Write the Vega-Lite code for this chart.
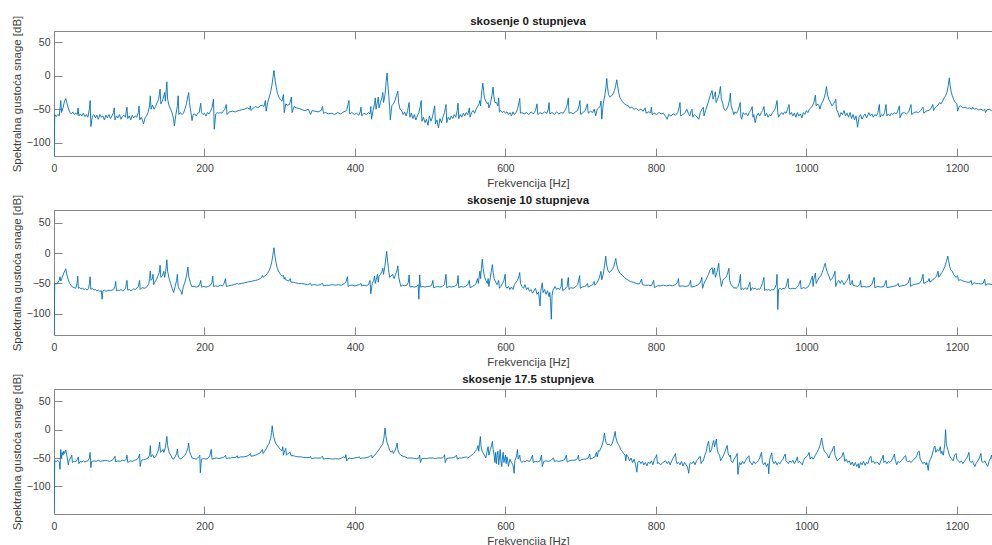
{
"$schema": "https://vega.github.io/schema/vega-lite/v6.json",
"background": "white",
"padding": {"left": 10, "top": 14, "right": 0, "bottom": 0},
"bounds": "flush",
"spacing": 54,
"config": {
  "font": "Liberation Sans",
  "view": {"stroke": "#868686", "strokeWidth": 1},
  "axis": {"labelFont": "Liberation Sans", "labelFontSize": 10.5, "labelColor": "#404040", "titleFont": "Liberation Sans", "titleFontSize": 11.5, "titleFontWeight": "normal", "titleColor": "#404040", "domain": false, "grid": false, "tickColor": "#868686", "tickSize": -8, "labelFlush": false, "format": "d"},
  "axisX": {"labelPadding": 15, "titlePadding": 4},
  "axisY": {"labelPadding": 12, "titlePadding": 4},
  "title": {"font": "Liberation Sans", "fontSize": 11.5, "fontWeight": "bold", "color": "#1a1a1a", "offset": -12.5}
},
"datasets": {
"a": [
{"f":0,"v":-120},{"f":1,"v":-58},{"f":3,"v":-61},{"f":5,"v":-58},{"f":7,"v":-60},{"f":9,"v":-37},{"f":10,"v":-55},{"f":12,"v":-48},{"f":14,"v":-38},{"f":15.6,"v":-34},{"f":17,"v":-40},{"f":19,"v":-48},{"f":21,"v":-55},{"f":23,"v":-57},{"f":25,"v":-54},{"f":27,"v":-58},{"f":29,"v":-56},{"f":31,"v":-58},{"f":32,"v":-48},{"f":33,"v":-60},{"f":35,"v":-57},{"f":37,"v":-60},{"f":39,"v":-56},{"f":41,"v":-61},{"f":43,"v":-58},{"f":45,"v":-62},{"f":47,"v":-50},{"f":48,"v":-37},{"f":49,"v":-76},{"f":51,"v":-60},{"f":53,"v":-58},{"f":55,"v":-63},{"f":57,"v":-59},{"f":59,"v":-65},{"f":61,"v":-58},{"f":63,"v":-62},{"f":65,"v":-60},{"f":67,"v":-66},{"f":69,"v":-59},{"f":71,"v":-63},{"f":73,"v":-58},{"f":75,"v":-64},{"f":77,"v":-60},{"f":79,"v":-55},{"f":80,"v":-48},{"f":81,"v":-66},{"f":83,"v":-60},{"f":85,"v":-63},{"f":87,"v":-58},{"f":89,"v":-65},{"f":91,"v":-61},{"f":93,"v":-59},{"f":95,"v":-62},{"f":96,"v":-53},{"f":97,"v":-47},{"f":98,"v":-64},{"f":100,"v":-60},{"f":102,"v":-66},{"f":104,"v":-59},{"f":106,"v":-63},{"f":108,"v":-60},{"f":110,"v":-62},{"f":112,"v":-55},{"f":113,"v":-45},{"f":114,"v":-66},{"f":116,"v":-62},{"f":118,"v":-68},{"f":119,"v":-72},{"f":121,"v":-63},{"f":123,"v":-60},{"f":125,"v":-55},{"f":127,"v":-45},{"f":128,"v":-30},{"f":129,"v":-50},{"f":131,"v":-44},{"f":133,"v":-50},{"f":135,"v":-46},{"f":137,"v":-40},{"f":139,"v":-36},{"f":141,"v":-20},{"f":142,"v":-42},{"f":144,"v":-38},{"f":146,"v":-30},{"f":147,"v":-25},{"f":148,"v":-38},{"f":150,"v":-9},{"f":151,"v":-35},{"f":153,"v":-45},{"f":155,"v":-50},{"f":157,"v":-56},{"f":159,"v":-65},{"f":160,"v":-75},{"f":162,"v":-58},{"f":164,"v":-45},{"f":165,"v":-30},{"f":166,"v":-58},{"f":168,"v":-55},{"f":170,"v":-58},{"f":172,"v":-56},{"f":174,"v":-50},{"f":176,"v":-42},{"f":178,"v":-30},{"f":179,"v":-25},{"f":180,"v":-40},{"f":182,"v":-55},{"f":183.5,"v":-67},{"f":185,"v":-58},{"f":187,"v":-57},{"f":189,"v":-60},{"f":191,"v":-56},{"f":193,"v":-55},{"f":195,"v":-41},{"f":196,"v":-55},{"f":198,"v":-58},{"f":200,"v":-56},{"f":202,"v":-60},{"f":204,"v":-55},{"f":206,"v":-57},{"f":208,"v":-53},{"f":210,"v":-48},{"f":212,"v":-35},{"f":213,"v":-80},{"f":215,"v":-57},{"f":217,"v":-55},{"f":219,"v":-56},{"f":221,"v":-55},{"f":223,"v":-56},{"f":225,"v":-53},{"f":227,"v":-50},{"f":229,"v":-43},{"f":230,"v":-58},{"f":233,"v":-54},{"f":237,"v":-53},{"f":241,"v":-54},{"f":245,"v":-52},{"f":249,"v":-51},{"f":253,"v":-50},{"f":257,"v":-48},{"f":260,"v":-50},{"f":261,"v":-45},{"f":262,"v":-52},{"f":265,"v":-48},{"f":268,"v":-46},{"f":271,"v":-48},{"f":274,"v":-45},{"f":277,"v":-44},{"f":279,"v":-46},{"f":281,"v":-37},{"f":282,"v":-53},{"f":284,"v":-40},{"f":286,"v":-32},{"f":288,"v":-24},{"f":289.5,"v":-15},{"f":290.8,"v":-5},{"f":291.8,"v":4},{"f":292.4,"v":8},{"f":293,"v":3},{"f":294,"v":-8},{"f":295.5,"v":-18},{"f":297,"v":-26},{"f":299,"v":-32},{"f":301,"v":-36},{"f":303,"v":-38},{"f":305,"v":-28},{"f":306,"v":-55},{"f":308,"v":-42},{"f":310,"v":-44},{"f":313,"v":-43},{"f":315.5,"v":-32},{"f":316.5,"v":-55},{"f":319,"v":-46},{"f":322,"v":-48},{"f":326,"v":-49},{"f":330,"v":-51},{"f":334,"v":-52},{"f":338,"v":-50},{"f":341,"v":-58},{"f":343,"v":-52},{"f":347,"v":-53},{"f":351,"v":-54},{"f":355,"v":-52},{"f":357,"v":-46},{"f":358,"v":-56},{"f":361,"v":-55},{"f":365,"v":-57},{"f":369,"v":-56},{"f":373,"v":-58},{"f":377,"v":-55},{"f":381,"v":-57},{"f":385,"v":-54},{"f":389,"v":-52},{"f":392,"v":-37},{"f":393,"v":-57},{"f":396,"v":-55},{"f":399,"v":-58},{"f":402,"v":-56},{"f":405,"v":-59},{"f":407,"v":-54},{"f":408,"v":-47},{"f":409,"v":-60},{"f":412,"v":-56},{"f":415,"v":-58},{"f":418,"v":-55},{"f":420,"v":-57},{"f":421,"v":-46},{"f":422,"v":-65},{"f":424,"v":-52},{"f":426,"v":-42},{"f":427,"v":-33},{"f":428,"v":-50},{"f":430,"v":-38},{"f":431,"v":-32},{"f":432,"v":-48},{"f":434,"v":-40},{"f":436,"v":-32},{"f":437,"v":-25},{"f":438,"v":-40},{"f":440,"v":-28},{"f":441.5,"v":-8},{"f":442.7,"v":4},{"f":443.5,"v":-10},{"f":445,"v":-30},{"f":446,"v":-45},{"f":447,"v":-66},{"f":449,"v":-45},{"f":451,"v":-42},{"f":453,"v":-38},{"f":455,"v":-30},{"f":457,"v":-23},{"f":458,"v":-40},{"f":460,"v":-50},{"f":462,"v":-52},{"f":464,"v":-58},{"f":466,"v":-54},{"f":468,"v":-60},{"f":470,"v":-52},{"f":472,"v":-40},{"f":473,"v":-62},{"f":475,"v":-56},{"f":477,"v":-64},{"f":479,"v":-58},{"f":481,"v":-66},{"f":483,"v":-60},{"f":485,"v":-55},{"f":487,"v":-45},{"f":488,"v":-37},{"f":489,"v":-68},{"f":491,"v":-62},{"f":493,"v":-70},{"f":495,"v":-65},{"f":497,"v":-74},{"f":499,"v":-60},{"f":501,"v":-68},{"f":503,"v":-62},{"f":505,"v":-50},{"f":506,"v":-45},{"f":507,"v":-72},{"f":509,"v":-66},{"f":511,"v":-78},{"f":513,"v":-64},{"f":515,"v":-70},{"f":517,"v":-62},{"f":519,"v":-55},{"f":521,"v":-43},{"f":522,"v":-70},{"f":524,"v":-62},{"f":526,"v":-66},{"f":528,"v":-60},{"f":530,"v":-64},{"f":532,"v":-58},{"f":534,"v":-62},{"f":536,"v":-52},{"f":537,"v":-41},{"f":538,"v":-64},{"f":540,"v":-58},{"f":542,"v":-62},{"f":544,"v":-56},{"f":546,"v":-60},{"f":548,"v":-55},{"f":550,"v":-58},{"f":552,"v":-48},{"f":553,"v":-62},{"f":555,"v":-55},{"f":557,"v":-52},{"f":559,"v":-56},{"f":561,"v":-50},{"f":563,"v":-46},{"f":565,"v":-42},{"f":566,"v":-37},{"f":567,"v":-45},{"f":568,"v":-30},{"f":569,"v":-20},{"f":570,"v":-11},{"f":571,"v":-22},{"f":572,"v":-33},{"f":574,"v":-38},{"f":576,"v":-42},{"f":577,"v":-40},{"f":578,"v":-48},{"f":580,"v":-42},{"f":582,"v":-30},{"f":583.6,"v":-17},{"f":584.5,"v":-30},{"f":586,"v":-40},{"f":588,"v":-40},{"f":590,"v":-45},{"f":591,"v":-33},{"f":592,"v":-54},{"f":594,"v":-52},{"f":596,"v":-55},{"f":598,"v":-53},{"f":600,"v":-56},{"f":602,"v":-54},{"f":604,"v":-58},{"f":606,"v":-55},{"f":608,"v":-60},{"f":610,"v":-54},{"f":612,"v":-58},{"f":614,"v":-55},{"f":616,"v":-50},{"f":618,"v":-40},{"f":619,"v":-34},{"f":620,"v":-56},{"f":622,"v":-55},{"f":625,"v":-57},{"f":628,"v":-55},{"f":631,"v":-58},{"f":634,"v":-54},{"f":637,"v":-57},{"f":640,"v":-52},{"f":642,"v":-42},{"f":643,"v":-58},{"f":646,"v":-55},{"f":649,"v":-57},{"f":652,"v":-54},{"f":655,"v":-56},{"f":657,"v":-50},{"f":658,"v":-40},{"f":659,"v":-57},{"f":662,"v":-55},{"f":665,"v":-58},{"f":668,"v":-54},{"f":671,"v":-57},{"f":674,"v":-55},{"f":677,"v":-56},{"f":680,"v":-50},{"f":682,"v":-44},{"f":683.6,"v":-33},{"f":684.5,"v":-56},{"f":687,"v":-55},{"f":690,"v":-57},{"f":693,"v":-54},{"f":696,"v":-52},{"f":698,"v":-44},{"f":699,"v":-37},{"f":700,"v":-58},{"f":703,"v":-55},{"f":706,"v":-52},{"f":709,"v":-42},{"f":710,"v":-56},{"f":713,"v":-53},{"f":716,"v":-55},{"f":718,"v":-50},{"f":720,"v":-60},{"f":722,"v":-50},{"f":724,"v":-48},{"f":726,"v":-45},{"f":727,"v":-38},{"f":728,"v":-65},{"f":730,"v":-42},{"f":732,"v":-30},{"f":733.5,"v":-18},{"f":734.7,"v":-4},{"f":735.5,"v":-15},{"f":737,"v":-28},{"f":739,"v":-32},{"f":741,"v":-30},{"f":743,"v":-27},{"f":745,"v":-22},{"f":746.5,"v":-15},{"f":748,"v":-6},{"f":749,"v":-14},{"f":750.5,"v":-25},{"f":752,"v":-32},{"f":755,"v":-38},{"f":758,"v":-42},{"f":761,"v":-44},{"f":763.6,"v":-45},{"f":765,"v":-48},{"f":768,"v":-47},{"f":771,"v":-50},{"f":774,"v":-49},{"f":777,"v":-52},{"f":780,"v":-50},{"f":783,"v":-53},{"f":785.8,"v":-48},{"f":787,"v":-56},{"f":790,"v":-54},{"f":793,"v":-55},{"f":794,"v":-47},{"f":795,"v":-58},{"f":798,"v":-56},{"f":801,"v":-58},{"f":804,"v":-55},{"f":807,"v":-57},{"f":810,"v":-56},{"f":813,"v":-61},{"f":815,"v":-65},{"f":817,"v":-58},{"f":820,"v":-60},{"f":823,"v":-57},{"f":826,"v":-59},{"f":829,"v":-55},{"f":831,"v":-47},{"f":832,"v":-40},{"f":833,"v":-60},{"f":836,"v":-58},{"f":839,"v":-55},{"f":841,"v":-50},{"f":843,"v":-56},{"f":845,"v":-60},{"f":847,"v":-52},{"f":848,"v":-50},{"f":849,"v":-62},{"f":851,"v":-58},{"f":853,"v":-60},{"f":855,"v":-62},{"f":857,"v":-65},{"f":859,"v":-55},{"f":861,"v":-50},{"f":863,"v":-47},{"f":864,"v":-60},{"f":866,"v":-52},{"f":868,"v":-45},{"f":870,"v":-38},{"f":872,"v":-30},{"f":874.7,"v":-22},{"f":876,"v":-35},{"f":878,"v":-28},{"f":879,"v":-24},{"f":880,"v":-40},{"f":882,"v":-35},{"f":884,"v":-28},{"f":885.8,"v":-16},{"f":887,"v":-35},{"f":889,"v":-42},{"f":890,"v":-48},{"f":892,"v":-52},{"f":894,"v":-50},{"f":896,"v":-45},{"f":898,"v":-35},{"f":899,"v":-26},{"f":900,"v":-45},{"f":902,"v":-52},{"f":903.6,"v":-58},{"f":905,"v":-54},{"f":907,"v":-56},{"f":909,"v":-52},{"f":911,"v":-45},{"f":912,"v":-40},{"f":913,"v":-62},{"f":914,"v":-65},{"f":916,"v":-55},{"f":918,"v":-58},{"f":920,"v":-56},{"f":922,"v":-60},{"f":924,"v":-55},{"f":926,"v":-52},{"f":928,"v":-46},{"f":929,"v":-62},{"f":930,"v":-58},{"f":932,"v":-70},{"f":934,"v":-60},{"f":936,"v":-56},{"f":938,"v":-60},{"f":940,"v":-55},{"f":942,"v":-52},{"f":943.6,"v":-46},{"f":945,"v":-60},{"f":947,"v":-56},{"f":949,"v":-62},{"f":951,"v":-58},{"f":953,"v":-60},{"f":955,"v":-55},{"f":957,"v":-52},{"f":959,"v":-48},{"f":961,"v":-37},{"f":962,"v":-55},{"f":963,"v":-62},{"f":965,"v":-58},{"f":967,"v":-55},{"f":969,"v":-58},{"f":971,"v":-54},{"f":973,"v":-56},{"f":975,"v":-50},{"f":977,"v":-43},{"f":978,"v":-58},{"f":980,"v":-55},{"f":982,"v":-60},{"f":984,"v":-56},{"f":986,"v":-62},{"f":988,"v":-55},{"f":990,"v":-60},{"f":992,"v":-57},{"f":994,"v":-63},{"f":996,"v":-55},{"f":998,"v":-58},{"f":1000,"v":-52},{"f":1002,"v":-55},{"f":1004,"v":-50},{"f":1006,"v":-48},{"f":1008,"v":-45},{"f":1010,"v":-40},{"f":1012,"v":-29},{"f":1013,"v":-45},{"f":1015,"v":-42},{"f":1017,"v":-45},{"f":1018,"v":-50},{"f":1020,"v":-42},{"f":1022,"v":-38},{"f":1024,"v":-32},{"f":1025.5,"v":-25},{"f":1026.7,"v":-16},{"f":1028,"v":-28},{"f":1030,"v":-36},{"f":1032,"v":-40},{"f":1034,"v":-45},{"f":1036,"v":-42},{"f":1038,"v":-38},{"f":1039,"v":-35},{"f":1040,"v":-50},{"f":1042,"v":-55},{"f":1044,"v":-62},{"f":1046,"v":-55},{"f":1048,"v":-58},{"f":1050,"v":-52},{"f":1052,"v":-60},{"f":1054,"v":-56},{"f":1056,"v":-62},{"f":1058,"v":-55},{"f":1060,"v":-64},{"f":1062,"v":-58},{"f":1064,"v":-66},{"f":1066,"v":-60},{"f":1068,"v":-77},{"f":1070,"v":-62},{"f":1072,"v":-58},{"f":1074,"v":-65},{"f":1076,"v":-60},{"f":1078,"v":-57},{"f":1080,"v":-63},{"f":1082,"v":-58},{"f":1083,"v":-55},{"f":1085,"v":-60},{"f":1087,"v":-57},{"f":1089,"v":-62},{"f":1091,"v":-58},{"f":1093,"v":-60},{"f":1095,"v":-55},{"f":1097,"v":-43},{"f":1098,"v":-62},{"f":1100,"v":-58},{"f":1102,"v":-60},{"f":1104,"v":-55},{"f":1105.8,"v":-43},{"f":1107,"v":-60},{"f":1109,"v":-57},{"f":1111,"v":-60},{"f":1113,"v":-56},{"f":1115,"v":-58},{"f":1117,"v":-55},{"f":1119,"v":-57},{"f":1121,"v":-54},{"f":1123.6,"v":-45},{"f":1124.5,"v":-63},{"f":1127,"v":-56},{"f":1130,"v":-55},{"f":1133,"v":-57},{"f":1136,"v":-54},{"f":1139,"v":-43},{"f":1140,"v":-58},{"f":1143,"v":-55},{"f":1146,"v":-54},{"f":1149,"v":-55},{"f":1152,"v":-52},{"f":1155,"v":-47},{"f":1156,"v":-56},{"f":1159,"v":-53},{"f":1162,"v":-52},{"f":1165,"v":-50},{"f":1168,"v":-43},{"f":1169,"v":-52},{"f":1171,"v":-48},{"f":1173,"v":-46},{"f":1175,"v":-44},{"f":1177,"v":-40},{"f":1179,"v":-42},{"f":1181,"v":-38},{"f":1183,"v":-33},{"f":1185,"v":-30},{"f":1187,"v":-24},{"f":1188.5,"v":-15},{"f":1190,"v":-3},{"f":1191,"v":-14},{"f":1192.5,"v":-24},{"f":1194,"v":-30},{"f":1196,"v":-36},{"f":1198,"v":-40},{"f":1200,"v":-42},{"f":1201,"v":-53},{"f":1203,"v":-46},{"f":1205,"v":-45},{"f":1208,"v":-48},{"f":1211,"v":-47},{"f":1214,"v":-49},{"f":1217,"v":-48},{"f":1220,"v":-50},{"f":1221,"v":-47},{"f":1223,"v":-50},{"f":1226,"v":-49},{"f":1229,"v":-51},{"f":1232,"v":-50},{"f":1235,"v":-52},{"f":1237,"v":-50},{"f":1238,"v":-55},{"f":1240,"v":-51},{"f":1243,"v":-50},{"f":1246,"v":-52},{"f":1248,"v":-49.5},{"f":1251,"v":-51},{"f":1254,"v":-50},{"f":1257,"v":-52},{"f":1260,"v":-51}
],
"b": [
{"f":0,"v":-135},{"f":1,"v":-50},{"f":3,"v":-51},{"f":5,"v":-49},{"f":7,"v":-45},{"f":8,"v":-39},{"f":9,"v":-46},{"f":11,"v":-40},{"f":13,"v":-33},{"f":15.6,"v":-26},{"f":17,"v":-35},{"f":19,"v":-44},{"f":21,"v":-50},{"f":23,"v":-54},{"f":25,"v":-56},{"f":27,"v":-57},{"f":29,"v":-58},{"f":31,"v":-48},{"f":31.5,"v":-38},{"f":32.5,"v":-58},{"f":34,"v":-57},{"f":36,"v":-59},{"f":38,"v":-58},{"f":40,"v":-60},{"f":42,"v":-59},{"f":44,"v":-61},{"f":46,"v":-58},{"f":47,"v":-50},{"f":48,"v":-39},{"f":49,"v":-60},{"f":51,"v":-58},{"f":53,"v":-61},{"f":55,"v":-60},{"f":57,"v":-62},{"f":59,"v":-61},{"f":61,"v":-63},{"f":63,"v":-62},{"f":64,"v":-76},{"f":65,"v":-62},{"f":67,"v":-61},{"f":69,"v":-63},{"f":71,"v":-62},{"f":73,"v":-61},{"f":75,"v":-62},{"f":77,"v":-61},{"f":79,"v":-60},{"f":81,"v":-55},{"f":82,"v":-47},{"f":83,"v":-62},{"f":85,"v":-61},{"f":87,"v":-62},{"f":89,"v":-60},{"f":91,"v":-62},{"f":93,"v":-61},{"f":95,"v":-58},{"f":97,"v":-45},{"f":98,"v":-61},{"f":100,"v":-60},{"f":102,"v":-62},{"f":104,"v":-61},{"f":106,"v":-59},{"f":108,"v":-60},{"f":110,"v":-58},{"f":112,"v":-55},{"f":113.8,"v":-45},{"f":114.5,"v":-60},{"f":116,"v":-58},{"f":118,"v":-57},{"f":120,"v":-58},{"f":122,"v":-57},{"f":124,"v":-55},{"f":126,"v":-50},{"f":127,"v":-42},{"f":128,"v":-30},{"f":129,"v":-45},{"f":131,"v":-42},{"f":131.6,"v":-35},{"f":132.5,"v":-52},{"f":134,"v":-48},{"f":136,"v":-44},{"f":138,"v":-38},{"f":140,"v":-32},{"f":141,"v":-20},{"f":142,"v":-40},{"f":144,"v":-38},{"f":146,"v":-30},{"f":147,"v":-40},{"f":148.5,"v":-30},{"f":150,"v":-11},{"f":151,"v":-30},{"f":153,"v":-42},{"f":155,"v":-50},{"f":157,"v":-58},{"f":159,"v":-65},{"f":161,"v":-55},{"f":163,"v":-45},{"f":164,"v":-35},{"f":165,"v":-55},{"f":167,"v":-60},{"f":169,"v":-64},{"f":170,"v":-68},{"f":172,"v":-55},{"f":174,"v":-48},{"f":176,"v":-38},{"f":178,"v":-23},{"f":179,"v":-38},{"f":181,"v":-48},{"f":183,"v":-55},{"f":186,"v":-55},{"f":189,"v":-56},{"f":192,"v":-55},{"f":194,"v":-50},{"f":195,"v":-45},{"f":196,"v":-56},{"f":199,"v":-55},{"f":202,"v":-56},{"f":205,"v":-55},{"f":208,"v":-53},{"f":210,"v":-48},{"f":211,"v":-38},{"f":212,"v":-55},{"f":215,"v":-54},{"f":218,"v":-55},{"f":221,"v":-53},{"f":224,"v":-54},{"f":226,"v":-50},{"f":228,"v":-42},{"f":229,"v":-55},{"f":232,"v":-54},{"f":236,"v":-53},{"f":240,"v":-52},{"f":243.6,"v":-50},{"f":245,"v":-51},{"f":249,"v":-50},{"f":253,"v":-49},{"f":257,"v":-48},{"f":259,"v":-47},{"f":261,"v":-47},{"f":264,"v":-46},{"f":268,"v":-45},{"f":271,"v":-44},{"f":274,"v":-42},{"f":276,"v":-40},{"f":276.9,"v":-37},{"f":278,"v":-40},{"f":280,"v":-38},{"f":282,"v":-36},{"f":284,"v":-33},{"f":286,"v":-29},{"f":288,"v":-22},{"f":289.5,"v":-14},{"f":290.8,"v":-4},{"f":291.8,"v":4},{"f":292.4,"v":8.7},{"f":293,"v":3},{"f":294,"v":-8},{"f":295.5,"v":-18},{"f":297,"v":-26},{"f":299,"v":-31},{"f":301,"v":-35},{"f":303,"v":-38},{"f":305,"v":-37},{"f":306,"v":-43},{"f":307,"v":-40},{"f":308,"v":-44},{"f":310,"v":-45},{"f":312,"v":-46},{"f":314,"v":-42},{"f":315,"v":-48},{"f":318,"v":-48},{"f":321,"v":-49},{"f":325,"v":-50},{"f":329,"v":-50},{"f":333,"v":-51},{"f":337,"v":-52},{"f":341,"v":-50},{"f":342,"v":-53},{"f":346,"v":-52},{"f":350,"v":-53},{"f":354,"v":-52},{"f":357,"v":-50},{"f":358,"v":-54},{"f":362,"v":-53},{"f":366,"v":-53},{"f":370,"v":-52},{"f":374,"v":-53},{"f":378,"v":-52},{"f":382,"v":-53},{"f":385,"v":-51},{"f":388,"v":-48},{"f":390,"v":-39},{"f":391,"v":-55},{"f":394,"v":-53},{"f":397,"v":-53},{"f":400,"v":-54},{"f":403,"v":-53},{"f":406,"v":-52},{"f":408,"v":-50},{"f":409,"v":-54},{"f":412,"v":-53},{"f":415,"v":-54},{"f":418,"v":-52},{"f":420,"v":-45},{"f":421,"v":-67},{"f":423,"v":-50},{"f":425,"v":-45},{"f":426,"v":-38},{"f":427,"v":-50},{"f":429,"v":-40},{"f":430,"v":-35},{"f":431,"v":-48},{"f":432,"v":-38},{"f":434,"v":-35},{"f":436,"v":-30},{"f":437,"v":-25},{"f":438,"v":-35},{"f":440,"v":-20},{"f":441.3,"v":-5},{"f":442.2,"v":3},{"f":443,"v":-8},{"f":444.5,"v":-25},{"f":446,"v":-40},{"f":448,"v":-38},{"f":450,"v":-35},{"f":452,"v":-42},{"f":454,"v":-35},{"f":456,"v":-28},{"f":457,"v":-21},{"f":458,"v":-38},{"f":460,"v":-50},{"f":461,"v":-55},{"f":463,"v":-53},{"f":466,"v":-54},{"f":469,"v":-53},{"f":471,"v":-48},{"f":472,"v":-36},{"f":473,"v":-56},{"f":476,"v":-55},{"f":479,"v":-56},{"f":482,"v":-55},{"f":484,"v":-52},{"f":485,"v":-76},{"f":486,"v":-36},{"f":487,"v":-56},{"f":490,"v":-55},{"f":493,"v":-56},{"f":496,"v":-55},{"f":499,"v":-55},{"f":502,"v":-53},{"f":503.6,"v":-45},{"f":504.5,"v":-57},{"f":507,"v":-56},{"f":510,"v":-55},{"f":513,"v":-56},{"f":516,"v":-55},{"f":519,"v":-52},{"f":521,"v":-35},{"f":522,"v":-57},{"f":525,"v":-55},{"f":528,"v":-56},{"f":531,"v":-55},{"f":534,"v":-54},{"f":536,"v":-50},{"f":537,"v":-37},{"f":538,"v":-57},{"f":541,"v":-55},{"f":544,"v":-56},{"f":547,"v":-55},{"f":550,"v":-52},{"f":552,"v":-45},{"f":553,"v":-57},{"f":556,"v":-55},{"f":559,"v":-53},{"f":561,"v":-50},{"f":563,"v":-42},{"f":564,"v":-50},{"f":566,"v":-30},{"f":567,"v":-42},{"f":568,"v":-25},{"f":569.3,"v":-10},{"f":570.3,"v":-25},{"f":572,"v":-38},{"f":574,"v":-45},{"f":576,"v":-50},{"f":577,"v":-42},{"f":578,"v":-55},{"f":580,"v":-40},{"f":581.5,"v":-28},{"f":582.7,"v":-19},{"f":583.7,"v":-32},{"f":585,"v":-42},{"f":587,"v":-48},{"f":589,"v":-52},{"f":591,"v":-45},{"f":592,"v":-58},{"f":594,"v":-55},{"f":596,"v":-50},{"f":598,"v":-45},{"f":599.6,"v":-35},{"f":600.5,"v":-55},{"f":602,"v":-58},{"f":604,"v":-55},{"f":606,"v":-60},{"f":608,"v":-56},{"f":610,"v":-60},{"f":612,"v":-52},{"f":614,"v":-48},{"f":616,"v":-45},{"f":618,"v":-38},{"f":619,"v":-32},{"f":620,"v":-50},{"f":622,"v":-55},{"f":624,"v":-58},{"f":626,"v":-52},{"f":628,"v":-60},{"f":630,"v":-57},{"f":632,"v":-63},{"f":634,"v":-60},{"f":636,"v":-66},{"f":638,"v":-62},{"f":640,"v":-58},{"f":642,"v":-68},{"f":644,"v":-64},{"f":646,"v":-87},{"f":647,"v":-62},{"f":649,"v":-49},{"f":650,"v":-65},{"f":652,"v":-60},{"f":654,"v":-68},{"f":656,"v":-62},{"f":658,"v":-72},{"f":659,"v":-65},{"f":660,"v":-80},{"f":661,"v":-109},{"f":662,"v":-70},{"f":663,"v":-62},{"f":666,"v":-55},{"f":668,"v":-60},{"f":670,"v":-58},{"f":672,"v":-60},{"f":674,"v":-55},{"f":675,"v":-42},{"f":676,"v":-62},{"f":678,"v":-60},{"f":680,"v":-58},{"f":682,"v":-55},{"f":683.6,"v":-40},{"f":684.5,"v":-60},{"f":687,"v":-57},{"f":690,"v":-58},{"f":693,"v":-56},{"f":696,"v":-52},{"f":698.7,"v":-37},{"f":699.5,"v":-58},{"f":702,"v":-56},{"f":705,"v":-55},{"f":707,"v":-54},{"f":709,"v":-50},{"f":710,"v":-56},{"f":713,"v":-54},{"f":716,"v":-52},{"f":718,"v":-47},{"f":719,"v":-53},{"f":721,"v":-50},{"f":723,"v":-46},{"f":725,"v":-40},{"f":727,"v":-30},{"f":728,"v":-44},{"f":730,"v":-35},{"f":731.8,"v":-20},{"f":733.3,"v":-5},{"f":734.3,"v":-18},{"f":736,"v":-28},{"f":738,"v":-32},{"f":740,"v":-30},{"f":742,"v":-27},{"f":744,"v":-22},{"f":745.7,"v":-14},{"f":746.7,"v":-9},{"f":747.7,"v":-18},{"f":749.5,"v":-27},{"f":752,"v":-33},{"f":755,"v":-36},{"f":758,"v":-40},{"f":761,"v":-43},{"f":763.6,"v":-45},{"f":766,"v":-47},{"f":770,"v":-48},{"f":774,"v":-50},{"f":778,"v":-51},{"f":781,"v":-43},{"f":782,"v":-52},{"f":786,"v":-53},{"f":790,"v":-53},{"f":794,"v":-54},{"f":797,"v":-45},{"f":798,"v":-57},{"f":802,"v":-54},{"f":806,"v":-54},{"f":810,"v":-53},{"f":814,"v":-54},{"f":818,"v":-53},{"f":822,"v":-54},{"f":826,"v":-52},{"f":829,"v":-48},{"f":830,"v":-42},{"f":831,"v":-55},{"f":835,"v":-54},{"f":839,"v":-55},{"f":843,"v":-54},{"f":845,"v":-50},{"f":846,"v":-45},{"f":847,"v":-56},{"f":851,"v":-55},{"f":855,"v":-53},{"f":858,"v":-50},{"f":860,"v":-45},{"f":861,"v":-40},{"f":862,"v":-58},{"f":864,"v":-50},{"f":866,"v":-45},{"f":868,"v":-40},{"f":870,"v":-35},{"f":872,"v":-28},{"f":874.7,"v":-24},{"f":876,"v":-35},{"f":877,"v":-28},{"f":878,"v":-25},{"f":879,"v":-40},{"f":881,"v":-32},{"f":883.6,"v":-17},{"f":884.5,"v":-35},{"f":886,"v":-45},{"f":887,"v":-55},{"f":889,"v":-45},{"f":891,"v":-42},{"f":893,"v":-40},{"f":895,"v":-35},{"f":897,"v":-25},{"f":898,"v":-45},{"f":900,"v":-52},{"f":902,"v":-55},{"f":903.6,"v":-58},{"f":905,"v":-57},{"f":907,"v":-58},{"f":909,"v":-55},{"f":911,"v":-48},{"f":912.4,"v":-35},{"f":913,"v":-60},{"f":915,"v":-58},{"f":917,"v":-60},{"f":919,"v":-57},{"f":921,"v":-60},{"f":923,"v":-55},{"f":925,"v":-48},{"f":926,"v":-62},{"f":928,"v":-57},{"f":930,"v":-59},{"f":932,"v":-58},{"f":934,"v":-60},{"f":936,"v":-59},{"f":938,"v":-60},{"f":940,"v":-55},{"f":942,"v":-48},{"f":943.6,"v":-40},{"f":944.5,"v":-62},{"f":946,"v":-60},{"f":948,"v":-61},{"f":950,"v":-60},{"f":952,"v":-62},{"f":954,"v":-60},{"f":956,"v":-61},{"f":958,"v":-58},{"f":960,"v":-52},{"f":961,"v":-35},{"f":962,"v":-93},{"f":963,"v":-60},{"f":965,"v":-58},{"f":967,"v":-60},{"f":969,"v":-58},{"f":971,"v":-59},{"f":973,"v":-55},{"f":975.6,"v":-42},{"f":976.5,"v":-58},{"f":979,"v":-59},{"f":982,"v":-58},{"f":985,"v":-59},{"f":988,"v":-56},{"f":990,"v":-52},{"f":992,"v":-45},{"f":993,"v":-59},{"f":996,"v":-57},{"f":999,"v":-58},{"f":1002,"v":-56},{"f":1004,"v":-52},{"f":1006,"v":-45},{"f":1008,"v":-38},{"f":1009,"v":-55},{"f":1010,"v":-42},{"f":1012,"v":-33},{"f":1013,"v":-50},{"f":1015,"v":-45},{"f":1017,"v":-40},{"f":1019,"v":-38},{"f":1021,"v":-32},{"f":1023,"v":-25},{"f":1024,"v":-20},{"f":1025,"v":-17},{"f":1026,"v":-24},{"f":1028,"v":-32},{"f":1030,"v":-38},{"f":1032,"v":-45},{"f":1034,"v":-42},{"f":1036,"v":-38},{"f":1038,"v":-30},{"f":1039,"v":-55},{"f":1041,"v":-48},{"f":1043,"v":-45},{"f":1045,"v":-50},{"f":1047,"v":-45},{"f":1048,"v":-47},{"f":1050,"v":-52},{"f":1052,"v":-48},{"f":1054,"v":-45},{"f":1056,"v":-40},{"f":1057,"v":-35},{"f":1058,"v":-52},{"f":1060,"v":-50},{"f":1061,"v":-45},{"f":1062,"v":-53},{"f":1065,"v":-54},{"f":1068,"v":-55},{"f":1071,"v":-52},{"f":1072,"v":-45},{"f":1073,"v":-56},{"f":1076,"v":-55},{"f":1080,"v":-56},{"f":1084,"v":-55},{"f":1087,"v":-52},{"f":1090,"v":-40},{"f":1091,"v":-57},{"f":1095,"v":-55},{"f":1099,"v":-56},{"f":1103,"v":-55},{"f":1106,"v":-45},{"f":1107,"v":-57},{"f":1111,"v":-56},{"f":1115,"v":-55},{"f":1119,"v":-54},{"f":1122,"v":-50},{"f":1123,"v":-55},{"f":1127,"v":-54},{"f":1131,"v":-53},{"f":1135,"v":-50},{"f":1137.8,"v":-40},{"f":1138.5,"v":-55},{"f":1142,"v":-52},{"f":1146,"v":-51},{"f":1150,"v":-50},{"f":1153,"v":-45},{"f":1155,"v":-35},{"f":1156,"v":-50},{"f":1159,"v":-48},{"f":1162,"v":-46},{"f":1163,"v":-42},{"f":1164,"v":-48},{"f":1167,"v":-45},{"f":1170,"v":-42},{"f":1173,"v":-38},{"f":1175,"v":-30},{"f":1176,"v":-40},{"f":1178,"v":-36},{"f":1180,"v":-32},{"f":1182,"v":-28},{"f":1184,"v":-22},{"f":1186,"v":-14},{"f":1187.3,"v":-8},{"f":1188,"v":-5},{"f":1189,"v":-12},{"f":1190.5,"v":-22},{"f":1192,"v":-28},{"f":1194,"v":-30},{"f":1196,"v":-36},{"f":1199,"v":-40},{"f":1201,"v":-37},{"f":1202,"v":-45},{"f":1205,"v":-44},{"f":1208,"v":-46},{"f":1211,"v":-47},{"f":1214,"v":-48},{"f":1217,"v":-48},{"f":1219,"v":-45},{"f":1220,"v":-52},{"f":1223,"v":-49},{"f":1226,"v":-50},{"f":1229,"v":-50},{"f":1232,"v":-51},{"f":1235,"v":-50},{"f":1237,"v":-43},{"f":1238,"v":-53},{"f":1241,"v":-51},{"f":1244,"v":-51},{"f":1247,"v":-52},{"f":1250,"v":-51.6},{"f":1253,"v":-52},{"f":1256,"v":-52},{"f":1260,"v":-53}
],
"c": [
{"f":0,"v":-148},{"f":1,"v":-55},{"f":3,"v":-56},{"f":5,"v":-54},{"f":7,"v":-57},{"f":8,"v":-70},{"f":9,"v":-35},{"f":10,"v":-50},{"f":11,"v":-40},{"f":12,"v":-45},{"f":13,"v":-38},{"f":14,"v":-42},{"f":15.6,"v":-36},{"f":17,"v":-45},{"f":19,"v":-62},{"f":20,"v":-55},{"f":22,"v":-50},{"f":23.6,"v":-45},{"f":24.5,"v":-58},{"f":26,"v":-56},{"f":28,"v":-57},{"f":30,"v":-55},{"f":32.4,"v":-48},{"f":33,"v":-60},{"f":35,"v":-56},{"f":37,"v":-57},{"f":39,"v":-55},{"f":41,"v":-57},{"f":43,"v":-56},{"f":45,"v":-55},{"f":47,"v":-50},{"f":48,"v":-40},{"f":49,"v":-67},{"f":50,"v":-56},{"f":53,"v":-55},{"f":56,"v":-56},{"f":59,"v":-54},{"f":62,"v":-56},{"f":65,"v":-55},{"f":68,"v":-54},{"f":71,"v":-55},{"f":74,"v":-56},{"f":77,"v":-54},{"f":79,"v":-52},{"f":81,"v":-47},{"f":82,"v":-57},{"f":85,"v":-55},{"f":88,"v":-56},{"f":91,"v":-54},{"f":94,"v":-55},{"f":96,"v":-52},{"f":97,"v":-45},{"f":98,"v":-58},{"f":101,"v":-55},{"f":104,"v":-56},{"f":107,"v":-54},{"f":110,"v":-53},{"f":112,"v":-50},{"f":113.8,"v":-43},{"f":114.5,"v":-65},{"f":116,"v":-54},{"f":119,"v":-53},{"f":122,"v":-52},{"f":125,"v":-50},{"f":127,"v":-45},{"f":128,"v":-28},{"f":129,"v":-48},{"f":131,"v":-44},{"f":131.6,"v":-45},{"f":133,"v":-50},{"f":135,"v":-48},{"f":137,"v":-42},{"f":139,"v":-35},{"f":140.4,"v":-22},{"f":141.5,"v":-40},{"f":143,"v":-38},{"f":145,"v":-35},{"f":146,"v":-40},{"f":148,"v":-32},{"f":149,"v":-22},{"f":150,"v":-11.8},{"f":151,"v":-28},{"f":153,"v":-40},{"f":155,"v":-45},{"f":157,"v":-50},{"f":159,"v":-52},{"f":161,"v":-48},{"f":163,"v":-42},{"f":164,"v":-34},{"f":165,"v":-48},{"f":167,"v":-50},{"f":168,"v":-52},{"f":170,"v":-50},{"f":172,"v":-48},{"f":174,"v":-45},{"f":176,"v":-40},{"f":178,"v":-32},{"f":179,"v":-23.5},{"f":180,"v":-38},{"f":182,"v":-45},{"f":183.6,"v":-50},{"f":186,"v":-51},{"f":189,"v":-52},{"f":191,"v":-50},{"f":193,"v":-47},{"f":193.8,"v":-45},{"f":194.5,"v":-76},{"f":196,"v":-52},{"f":199,"v":-51},{"f":202,"v":-52},{"f":205,"v":-50},{"f":207,"v":-46},{"f":209,"v":-35},{"f":210,"v":-52},{"f":213,"v":-51},{"f":216,"v":-50},{"f":219,"v":-51},{"f":222,"v":-50},{"f":225,"v":-49},{"f":227,"v":-47},{"f":228,"v":-45},{"f":229,"v":-51},{"f":232,"v":-50},{"f":235,"v":-50},{"f":238,"v":-49},{"f":241,"v":-49},{"f":243.6,"v":-46},{"f":244.5,"v":-50},{"f":248,"v":-48},{"f":252,"v":-48},{"f":256,"v":-47},{"f":259,"v":-45},{"f":261,"v":-42},{"f":262,"v":-47},{"f":265,"v":-46},{"f":268,"v":-45},{"f":271,"v":-43},{"f":274,"v":-41},{"f":277,"v":-35},{"f":278,"v":-42},{"f":280,"v":-38},{"f":282,"v":-34},{"f":284,"v":-28},{"f":286,"v":-24},{"f":288,"v":-15},{"f":289.2,"v":-5},{"f":290,"v":7},{"f":290.8,"v":-2},{"f":292,"v":-12},{"f":293.5,"v":-20},{"f":295,"v":-25},{"f":297,"v":-28},{"f":299,"v":-32},{"f":301,"v":-35},{"f":303,"v":-37},{"f":304,"v":-30},{"f":305,"v":-45},{"f":306,"v":-40},{"f":308,"v":-33},{"f":309,"v":-45},{"f":311,"v":-42},{"f":314,"v":-40},{"f":315,"v":-46},{"f":318,"v":-46},{"f":321,"v":-47},{"f":324,"v":-48},{"f":328,"v":-48},{"f":332,"v":-49},{"f":336,"v":-49},{"f":340,"v":-49},{"f":341,"v":-47},{"f":342,"v":-51},{"f":346,"v":-50},{"f":350,"v":-50},{"f":354,"v":-50},{"f":357,"v":-47},{"f":358,"v":-52},{"f":362,"v":-51},{"f":366,"v":-51},{"f":370,"v":-52},{"f":374,"v":-51},{"f":378,"v":-52},{"f":382,"v":-50},{"f":385,"v":-48},{"f":387,"v":-50},{"f":388,"v":-44},{"f":389,"v":-55},{"f":392,"v":-50},{"f":396,"v":-51},{"f":400,"v":-50},{"f":404,"v":-49},{"f":406,"v":-48},{"f":407,"v":-51},{"f":410,"v":-50},{"f":413,"v":-50},{"f":416,"v":-49},{"f":419,"v":-48},{"f":422,"v":-45},{"f":423,"v":-50},{"f":425,"v":-46},{"f":427,"v":-44},{"f":429,"v":-40},{"f":431,"v":-37},{"f":433,"v":-33},{"f":435,"v":-29},{"f":437,"v":-25},{"f":438.5,"v":-15},{"f":440,"v":3},{"f":441,"v":-10},{"f":442.5,"v":-22},{"f":444.7,"v":-30},{"f":446,"v":-36},{"f":448,"v":-40},{"f":450,"v":-37},{"f":451,"v":-42},{"f":453,"v":-38},{"f":455,"v":-30},{"f":456,"v":-23.5},{"f":457,"v":-35},{"f":459,"v":-42},{"f":461,"v":-45},{"f":464,"v":-47},{"f":467,"v":-48},{"f":470,"v":-50},{"f":473,"v":-50},{"f":476,"v":-50},{"f":479,"v":-51},{"f":482,"v":-51},{"f":485,"v":-50},{"f":486,"v":-45},{"f":487,"v":-58},{"f":489,"v":-51},{"f":492,"v":-51},{"f":495,"v":-51},{"f":498,"v":-50},{"f":501,"v":-50},{"f":504,"v":-50},{"f":507,"v":-51},{"f":510,"v":-50},{"f":513,"v":-50},{"f":516,"v":-50},{"f":518,"v":-48},{"f":519,"v":-44},{"f":520,"v":-58},{"f":522,"v":-51},{"f":525,"v":-50},{"f":528,"v":-50},{"f":531,"v":-49},{"f":533,"v":-48},{"f":535,"v":-45},{"f":536,"v":-52},{"f":539,"v":-50},{"f":542,"v":-50},{"f":545,"v":-49},{"f":548,"v":-48},{"f":550,"v":-50},{"f":552,"v":-48},{"f":554,"v":-46},{"f":556,"v":-44},{"f":558,"v":-42},{"f":560,"v":-38},{"f":562,"v":-35},{"f":563.6,"v":-28},{"f":564.5,"v":-38},{"f":565.5,"v":-25},{"f":566.7,"v":-12},{"f":567.5,"v":-28},{"f":569,"v":-38},{"f":570,"v":-40},{"f":572,"v":-45},{"f":574,"v":-50},{"f":575,"v":-42},{"f":577,"v":-30},{"f":578,"v":-45},{"f":580,"v":-35},{"f":581.5,"v":-28},{"f":582.7,"v":-20.6},{"f":583.7,"v":-35},{"f":585,"v":-45},{"f":586,"v":-58},{"f":587,"v":-40},{"f":588,"v":-60},{"f":589,"v":-45},{"f":590,"v":-38},{"f":591,"v":-62},{"f":592,"v":-50},{"f":593,"v":-35},{"f":594,"v":-55},{"f":595,"v":-65},{"f":596,"v":-50},{"f":597,"v":-40},{"f":598,"v":-58},{"f":600,"v":-45},{"f":601,"v":-60},{"f":602,"v":-48},{"f":603,"v":-55},{"f":604,"v":-65},{"f":606,"v":-52},{"f":608,"v":-58},{"f":610,"v":-62},{"f":611.6,"v":-77},{"f":612.5,"v":-55},{"f":614,"v":-50},{"f":615,"v":-45},{"f":616,"v":-35},{"f":617,"v":-52},{"f":619,"v":-45},{"f":620,"v":-55},{"f":622,"v":-58},{"f":624,"v":-55},{"f":626,"v":-57},{"f":628,"v":-54},{"f":630,"v":-55},{"f":632,"v":-56},{"f":634,"v":-52},{"f":636,"v":-45},{"f":637,"v":-58},{"f":640,"v":-56},{"f":643,"v":-57},{"f":646,"v":-55},{"f":648,"v":-45},{"f":649,"v":-65},{"f":651,"v":-56},{"f":654,"v":-55},{"f":657,"v":-56},{"f":660,"v":-55},{"f":662,"v":-52},{"f":664,"v":-50},{"f":665,"v":-56},{"f":668,"v":-55},{"f":671,"v":-56},{"f":674,"v":-55},{"f":677,"v":-54},{"f":679,"v":-52},{"f":681,"v":-45},{"f":682,"v":-57},{"f":685,"v":-55},{"f":688,"v":-54},{"f":691,"v":-54},{"f":694,"v":-53},{"f":696,"v":-50},{"f":697,"v":-45},{"f":698,"v":-55},{"f":701,"v":-53},{"f":704,"v":-52},{"f":707,"v":-52},{"f":710,"v":-50},{"f":712,"v":-43},{"f":713,"v":-52},{"f":716,"v":-50},{"f":719,"v":-48},{"f":721,"v":-40},{"f":722,"v":-48},{"f":723.6,"v":-37},{"f":725,"v":-38},{"f":727,"v":-32},{"f":729,"v":-25},{"f":730.6,"v":-15},{"f":731.6,"v":-6},{"f":732.6,"v":-15},{"f":734,"v":-24},{"f":736,"v":-27},{"f":738,"v":-25},{"f":740,"v":-28},{"f":742,"v":-24},{"f":744,"v":-15},{"f":745.8,"v":-3},{"f":746.8,"v":-14},{"f":748.5,"v":-22},{"f":750,"v":-26},{"f":752,"v":-30},{"f":753,"v":-35},{"f":755,"v":-38},{"f":757,"v":-42},{"f":759,"v":-45},{"f":760,"v":-55},{"f":761,"v":-44},{"f":763,"v":-48},{"f":765,"v":-55},{"f":767,"v":-50},{"f":769,"v":-58},{"f":771,"v":-52},{"f":773,"v":-62},{"f":774.7,"v":-75},{"f":776,"v":-58},{"f":778,"v":-55},{"f":780,"v":-60},{"f":782,"v":-56},{"f":784,"v":-62},{"f":786,"v":-58},{"f":788,"v":-64},{"f":790,"v":-57},{"f":792,"v":-60},{"f":794,"v":-55},{"f":796,"v":-62},{"f":798,"v":-52},{"f":800,"v":-48},{"f":801,"v":-44},{"f":802,"v":-60},{"f":804,"v":-58},{"f":806,"v":-62},{"f":808,"v":-60},{"f":810,"v":-57},{"f":813,"v":-55},{"f":815,"v":-60},{"f":817,"v":-56},{"f":819,"v":-62},{"f":821,"v":-55},{"f":823,"v":-50},{"f":825,"v":-45},{"f":826,"v":-42},{"f":827,"v":-55},{"f":828,"v":-60},{"f":830,"v":-58},{"f":832,"v":-62},{"f":834,"v":-56},{"f":836,"v":-64},{"f":838,"v":-58},{"f":840,"v":-62},{"f":842,"v":-66},{"f":843.6,"v":-77},{"f":845,"v":-60},{"f":846,"v":-58},{"f":848,"v":-60},{"f":850,"v":-56},{"f":852,"v":-62},{"f":854,"v":-55},{"f":856,"v":-52},{"f":858,"v":-48},{"f":859,"v":-47},{"f":860,"v":-60},{"f":862,"v":-55},{"f":863,"v":-55},{"f":865,"v":-45},{"f":867,"v":-38},{"f":868,"v":-30},{"f":869,"v":-25},{"f":870,"v":-20.6},{"f":871,"v":-32},{"f":872,"v":-40},{"f":874,"v":-35},{"f":875,"v":-28},{"f":876,"v":-22},{"f":876.9,"v":-19},{"f":877.8,"v":-30},{"f":879,"v":-25},{"f":880.4,"v":-16.5},{"f":881.5,"v":-35},{"f":883,"v":-42},{"f":884.7,"v":-45},{"f":886,"v":-55},{"f":888,"v":-50},{"f":890,"v":-45},{"f":892,"v":-38},{"f":894,"v":-30},{"f":894.7,"v":-27.6},{"f":896,"v":-42},{"f":898,"v":-48},{"f":899,"v":-45},{"f":900,"v":-55},{"f":902,"v":-58},{"f":904,"v":-52},{"f":906,"v":-48},{"f":908,"v":-42},{"f":909,"v":-79},{"f":911,"v":-58},{"f":913,"v":-62},{"f":915,"v":-56},{"f":917,"v":-60},{"f":919,"v":-55},{"f":921,"v":-50},{"f":923.6,"v":-46},{"f":924.5,"v":-55},{"f":926,"v":-58},{"f":928,"v":-62},{"f":930,"v":-56},{"f":932,"v":-60},{"f":934,"v":-58},{"f":936,"v":-55},{"f":938,"v":-50},{"f":940.4,"v":-40},{"f":941.5,"v":-58},{"f":943,"v":-62},{"f":945,"v":-58},{"f":947,"v":-65},{"f":949,"v":-60},{"f":950,"v":-78},{"f":951,"v":-55},{"f":952,"v":-48},{"f":954,"v":-41},{"f":955,"v":-55},{"f":957,"v":-60},{"f":959,"v":-56},{"f":961,"v":-62},{"f":963,"v":-58},{"f":965,"v":-60},{"f":967,"v":-55},{"f":969,"v":-52},{"f":970,"v":-48},{"f":972,"v":-43},{"f":973,"v":-55},{"f":975,"v":-58},{"f":976,"v":-60},{"f":978,"v":-55},{"f":980,"v":-58},{"f":982,"v":-54},{"f":984,"v":-60},{"f":986,"v":-55},{"f":988,"v":-48},{"f":989,"v":-58},{"f":991,"v":-56},{"f":993,"v":-60},{"f":994.7,"v":-62},{"f":996,"v":-55},{"f":998,"v":-50},{"f":1000,"v":-48},{"f":1002,"v":-45},{"f":1003.6,"v":-40},{"f":1005,"v":-52},{"f":1007,"v":-48},{"f":1009,"v":-52},{"f":1010,"v":-50},{"f":1012,"v":-45},{"f":1014,"v":-40},{"f":1016,"v":-35},{"f":1018,"v":-28},{"f":1019,"v":-22},{"f":1020.4,"v":-14.7},{"f":1021.5,"v":-25},{"f":1023,"v":-35},{"f":1025,"v":-40},{"f":1027,"v":-42},{"f":1028,"v":-45},{"f":1030,"v":-50},{"f":1032,"v":-42},{"f":1034,"v":-38},{"f":1035.5,"v":-32},{"f":1036.9,"v":-29},{"f":1038,"v":-45},{"f":1039,"v":-48},{"f":1041,"v":-55},{"f":1043,"v":-52},{"f":1045,"v":-50},{"f":1047,"v":-48},{"f":1049,"v":-40},{"f":1050,"v":-46},{"f":1051,"v":-56},{"f":1053,"v":-52},{"f":1055,"v":-58},{"f":1057,"v":-55},{"f":1059,"v":-62},{"f":1061,"v":-57},{"f":1063,"v":-64},{"f":1065,"v":-58},{"f":1067,"v":-65},{"f":1069,"v":-60},{"f":1070,"v":-68},{"f":1072,"v":-58},{"f":1074,"v":-62},{"f":1076,"v":-56},{"f":1078,"v":-63},{"f":1080,"v":-58},{"f":1082,"v":-60},{"f":1084,"v":-50},{"f":1085.8,"v":-47},{"f":1087,"v":-58},{"f":1089,"v":-55},{"f":1091,"v":-60},{"f":1093,"v":-57},{"f":1095,"v":-58},{"f":1097,"v":-62},{"f":1099,"v":-55},{"f":1101,"v":-50},{"f":1102,"v":-45},{"f":1103,"v":-58},{"f":1105,"v":-55},{"f":1107,"v":-60},{"f":1109,"v":-56},{"f":1111,"v":-58},{"f":1113,"v":-55},{"f":1115,"v":-50},{"f":1117,"v":-43},{"f":1118,"v":-52},{"f":1120,"v":-62},{"f":1122,"v":-56},{"f":1124,"v":-58},{"f":1126,"v":-55},{"f":1128,"v":-52},{"f":1130,"v":-48},{"f":1132,"v":-46},{"f":1133,"v":-55},{"f":1135,"v":-57},{"f":1137,"v":-55},{"f":1139,"v":-58},{"f":1141,"v":-55},{"f":1143,"v":-52},{"f":1145,"v":-50},{"f":1147,"v":-45},{"f":1148,"v":-40},{"f":1150,"v":-38},{"f":1151,"v":-50},{"f":1153,"v":-56},{"f":1155,"v":-60},{"f":1157,"v":-57},{"f":1159,"v":-62},{"f":1160,"v":-58},{"f":1162,"v":-72},{"f":1163,"v":-58},{"f":1165,"v":-52},{"f":1167,"v":-45},{"f":1169,"v":-35},{"f":1170,"v":-30},{"f":1171,"v":-29},{"f":1172,"v":-40},{"f":1174,"v":-35},{"f":1176,"v":-38},{"f":1178,"v":-30},{"f":1179,"v":-42},{"f":1180,"v":-38},{"f":1182,"v":-45},{"f":1183,"v":-35},{"f":1184,"v":-25},{"f":1185,"v":0},{"f":1186,"v":-25},{"f":1187,"v":-30},{"f":1188,"v":-35},{"f":1190,"v":-45},{"f":1192,"v":-50},{"f":1195,"v":-55},{"f":1197,"v":-45},{"f":1199,"v":-42},{"f":1200,"v":-52},{"f":1202,"v":-55},{"f":1204,"v":-58},{"f":1206,"v":-55},{"f":1208,"v":-60},{"f":1210,"v":-56},{"f":1212,"v":-52},{"f":1214,"v":-48},{"f":1216,"v":-40},{"f":1217,"v":-55},{"f":1219,"v":-58},{"f":1221,"v":-55},{"f":1222,"v":-60},{"f":1224,"v":-65},{"f":1226,"v":-58},{"f":1228,"v":-55},{"f":1230,"v":-50},{"f":1232,"v":-42},{"f":1233,"v":-56},{"f":1235,"v":-58},{"f":1237,"v":-55},{"f":1239,"v":-60},{"f":1241,"v":-65},{"f":1243,"v":-55},{"f":1245,"v":-50},{"f":1246,"v":-45},{"f":1247,"v":-52},{"f":1249,"v":-55},{"f":1252,"v":-57},{"f":1255,"v":-54},{"f":1258,"v":-56},{"f":1260,"v":-55}
]
},
"vconcat": [
{
  "width": 948, "height": 125,
  "title": "skosenje 0 stupnjeva",
  "data": {"name": "a"},
  "encoding": {"y": {"field": "v", "type": "quantitative", "scale": {"domain": [-120, 67], "nice": false, "zero": false}, "axis": {"values": [-100,-50,0,50], "title": "Spektralna gustoća snage [dB]"}}},
  "layer": [
    {"mark": {"type": "line", "color": "#0072BD", "strokeWidth": 0.9, "clip": true},
     "encoding": {"x": {"field": "f", "type": "quantitative", "scale": {"domain": [0, 1260], "nice": false, "zero": false}, "axis": {"orient": "bottom", "values": [0,200,400,600,800,1000,1200], "title": "Frekvencija [Hz]"}}}},
    {"mark": {"type": "line", "opacity": 0, "clip": true},
     "encoding": {"x": {"field": "f", "type": "quantitative", "axis": {"orient": "top", "values": [0,200,400,600,800,1000,1200], "labels": false, "title": null, "labelPadding": 0, "titlePadding": 0, "minExtent": 0, "maxExtent": 0}}}}
  ]
},
{
  "width": 948, "height": 125,
  "title": "skosenje 10 stupnjeva",
  "data": {"name": "b"},
  "encoding": {"y": {"field": "v", "type": "quantitative", "scale": {"domain": [-135, 71], "nice": false, "zero": false}, "axis": {"values": [-100,-50,0,50], "title": "Spektralna gustoća snage [dB]"}}},
  "layer": [
    {"mark": {"type": "line", "color": "#0072BD", "strokeWidth": 0.9, "clip": true},
     "encoding": {"x": {"field": "f", "type": "quantitative", "scale": {"domain": [0, 1260], "nice": false, "zero": false}, "axis": {"orient": "bottom", "values": [0,200,400,600,800,1000,1200], "title": "Frekvencija [Hz]"}}}},
    {"mark": {"type": "line", "opacity": 0, "clip": true},
     "encoding": {"x": {"field": "f", "type": "quantitative", "axis": {"orient": "top", "values": [0,200,400,600,800,1000,1200], "labels": false, "title": null, "labelPadding": 0, "titlePadding": 0, "minExtent": 0, "maxExtent": 0}}}}
  ]
},
{
  "width": 948, "height": 125,
  "title": "skosenje 17.5 stupnjeva",
  "data": {"name": "c"},
  "encoding": {"y": {"field": "v", "type": "quantitative", "scale": {"domain": [-149, 72], "nice": false, "zero": false}, "axis": {"values": [-100,-50,0,50], "title": "Spektralna gustoća snage [dB]"}}},
  "layer": [
    {"mark": {"type": "line", "color": "#0072BD", "strokeWidth": 0.9, "clip": true},
     "encoding": {"x": {"field": "f", "type": "quantitative", "scale": {"domain": [0, 1260], "nice": false, "zero": false}, "axis": {"orient": "bottom", "values": [0,200,400,600,800,1000,1200], "title": "Frekvencija [Hz]"}}}},
    {"mark": {"type": "line", "opacity": 0, "clip": true},
     "encoding": {"x": {"field": "f", "type": "quantitative", "axis": {"orient": "top", "values": [0,200,400,600,800,1000,1200], "labels": false, "title": null, "labelPadding": 0, "titlePadding": 0, "minExtent": 0, "maxExtent": 0}}}}
  ]
}
]
}
